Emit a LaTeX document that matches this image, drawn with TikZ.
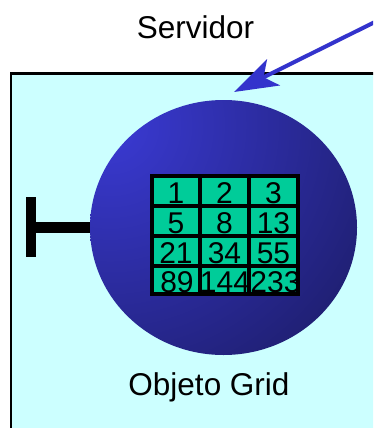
\documentclass[tikz,border=0pt]{standalone}
\usepackage{fontspec}
\setmainfont{Liberation Sans}
\usetikzlibrary{arrows.meta,shapes.geometric}
\definecolor{boxfill}{RGB}{204,255,255}
\definecolor{balllight}{RGB}{58,58,212}
\definecolor{balldark}{RGB}{24,24,88}
\definecolor{cellfill}{RGB}{0,204,153}
\definecolor{arrowblue}{RGB}{51,51,204}
\tikzset{
  bigtext/.style={font=\fontsize{31.5}{36}\selectfont, inner sep=0pt, anchor=base},
  digit/.style={font=\fontsize{30}{34}\selectfont, inner sep=0pt, anchor=base},
  gridline/.style={line width=3.2pt, draw=black},
}
\begin{document}
\begin{tikzpicture}[x=1pt,y=-1pt]
\useasboundingbox (0,0) rectangle (373,428);
\clip (0,0) rectangle (373,428);
% server box
\node[draw=black, line width=2.5pt, fill=boxfill, minimum width=380pt, minimum height=370pt, anchor=north west, inner sep=0pt] (box) at (9.5,72) {};
\node[bigtext] (srv) at (195.5,38) {Servidor};
% ball
\node[ellipse, minimum width=267pt, minimum height=255pt, inner sep=0pt] (ball) at (223.5,227.5) {};
\begin{scope}
\clip (223.5,227.5) ellipse [x radius=133.5, y radius=127.5];
\shade[inner color=balllight, outer color=balldark] (110,125) circle (370);
\end{scope}
% T handle
\coordinate (ttop) at (31,197);
\coordinate (tbot) at (31,257);
\coordinate (tmid) at (31,227.5);
\draw[line width=10pt] (ttop) -- (tbot);
\draw[line width=11pt] (tmid) -- (ball.west);
% grid
\path[fill=cellfill] (152,176) rectangle (298,294);
\foreach \x in {152,200,249,298} \draw[gridline] (\x,176) -- (\x,294);
\foreach \y in {176,206,236,266,294} \draw[gridline] (150.4,\y) -- (299.6,\y);
\node[digit] (c11) at (176,203) {1};
\node[digit] (c12) at (224.5,203) {2};
\node[digit] (c13) at (273.5,203) {3};
\node[digit] (c21) at (176,233) {5};
\node[digit] (c22) at (224.5,233) {8};
\node[digit] (c23) at (273.5,233) {13};
\node[digit] (c31) at (176,263.5) {21};
\node[digit] (c32) at (224.5,263.5) {34};
\node[digit] (c33) at (273.5,263.5) {55};
\node[digit] (c41) at (177,292.5) {89};
\node[digit] (c42) at (225,292.5) {144};
\node[digit] (c43) at (275.5,292.5) {233};
% label
\node[bigtext] (lbl) at (209,395) {Objeto Grid};
% arrow
\coordinate (astart) at (393,13);
\coordinate (atip) at (234,92);
\draw[arrowblue, line width=4pt, -{Stealth[length=44pt,width=29pt,inset=11pt]}] (astart) -- (atip);
\end{tikzpicture}
\end{document}
